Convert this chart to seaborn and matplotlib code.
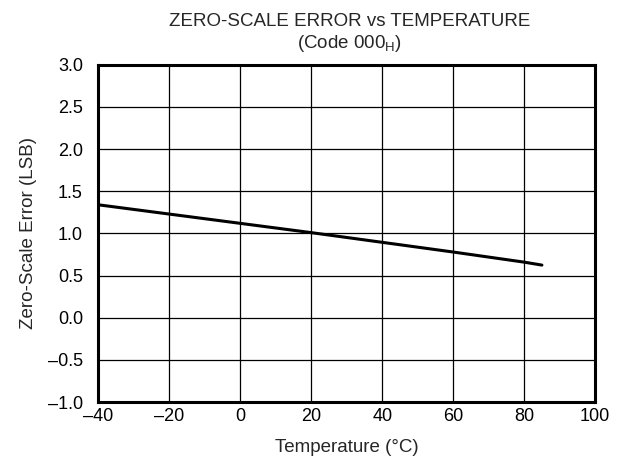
import numpy as np
import pandas as pd
import matplotlib
matplotlib.use("Agg")
import matplotlib.pyplot as plt
from matplotlib.ticker import FuncFormatter
import seaborn as sns

temperature = [-40, -20, 0, 20, 40, 60, 80, 85]
zero_scale_error = [1.34, 1.23, 1.12, 1.01, 0.895, 0.78, 0.66, 0.625]

x_ticks = [-40, -20, 0, 20, 40, 60, 80, 100]
y_ticks = [-1.0, -0.5, 0.0, 0.5, 1.0, 1.5, 2.0, 2.5, 3.0]

df = pd.DataFrame({"temp": temperature, "err": zero_scale_error})

sns.set_style("white")
plt.rcParams["font.family"] = ["Liberation Sans", "DejaVu Sans"]
plt.rcParams["mathtext.fontset"] = "custom"
plt.rcParams["mathtext.rm"] = "Liberation Sans"

fig = plt.figure(figsize=(6.18, 4.66), dpi=100)
ax = fig.add_axes([0.159, 0.137, 0.804, 0.724])

sns.lineplot(data=df, x="temp", y="err", color="black", linewidth=2.2, ax=ax)

ax.set_xlim(-40, 100)
ax.set_ylim(-1.0, 3.0)
ax.set_xticks(x_ticks)
ax.set_yticks(y_ticks)

ax.xaxis.set_major_formatter(FuncFormatter(lambda v, p: f"{v:.0f}".replace("-", "\u2013")))
ax.yaxis.set_major_formatter(FuncFormatter(lambda v, p: f"{v:.1f}".replace("-", "\u2013")))

ax.grid(True, color="black", linewidth=0.9)
ax.tick_params(axis="x", length=0, labelsize=13, pad=4, colors="black")
ax.tick_params(axis="y", length=0, labelsize=13, pad=11, colors="black")

for spine in ax.spines.values():
    spine.set_visible(True)
    spine.set_color("black")
    spine.set_linewidth(2.2)

ax.set_xlabel("Temperature (\u00b0C)", fontsize=13.5, labelpad=10)
ax.set_ylabel("Zero-Scale Error (LSB)", fontsize=13.5, labelpad=8)

fig.text(0.566, 0.944, "ZERO-SCALE ERROR vs TEMPERATURE", ha="center", va="baseline", fontsize=13.5)
fig.text(0.566, 0.897, "(Code 000$_\\mathrm{H}$)", ha="center", va="baseline", fontsize=13.5)

fig.savefig("out.png", dpi=100)
